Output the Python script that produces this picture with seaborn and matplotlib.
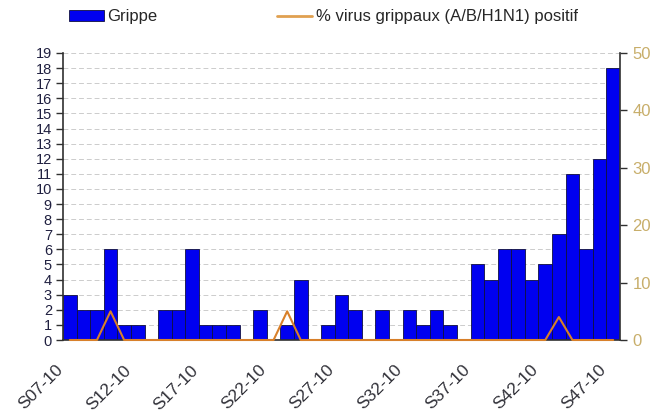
import matplotlib
matplotlib.use('Agg')
import matplotlib.pyplot as plt
import matplotlib.transforms as mtransforms
from matplotlib.patches import Patch
from matplotlib.lines import Line2D
import numpy as np
import pandas as pd
import seaborn as sb

# weekly counts (2010, weeks 7 to 47)
weeks = ["S%02d-10" % w for w in range(7, 48)]
grippe = [3, 2, 2, 6, 1, 1, 0, 2, 2, 6, 1, 1, 1, 0, 2, 0, 1, 4, 0, 1, 3,
          2, 0, 2, 0, 2, 1, 2, 1, 0, 5, 4, 6, 6, 4, 5, 7, 11, 6, 12, 18]
pct_virus = [0, 0, 0, 5, 0, 0, 0, 0, 0, 0, 0, 0, 0, 0, 0, 0, 5, 0, 0, 0, 0,
             0, 0, 0, 0, 0, 0, 0, 0, 0, 0, 0, 0, 0, 0, 0, 4, 0, 0, 0, 0]

df = pd.DataFrame({"week": weeks, "grippe": grippe, "pct": pct_virus})
df["pos"] = np.arange(len(df))

sb.set_style("white")
plt.rcParams["font.family"] = ["Liberation Sans", "DejaVu Sans"]

fig = plt.figure(figsize=(6.64, 4.16), dpi=100)
ax = fig.add_axes([63/664, 1-340/416, (620-63)/664, (340-53)/416])

#bars
sb.barplot(data=df, x="week", y="grippe", color="#0000F0", saturation=1,
           width=1, edgecolor="#101040", linewidth=0.6, ax=ax, zorder=2)
ax.set_xlim(-0.5, len(df) - 0.5)
ax.set_ylim(0, 19)
ax.set_yticks(range(0, 20))
ax.yaxis.grid(True, color="#cccccc", linestyle=(0, (5, 3)), linewidth=0.7)
ax.set_axisbelow(True)
ax.set_xlabel("")
ax.set_ylabel("")

# ticks at bar boundaries, labels every 5 weeks
bounds = np.arange(-0.5, len(df) + 0.5, 1)
labels = [weeks[i] if (i % 5 == 0 and i < len(weeks)) else "" for i in range(len(bounds))]
ax.set_xticks(bounds)
ax.tick_params(axis="x", direction="out", length=4, width=1, color="#303030", pad=2)
ax.tick_params(axis="y", direction="out", length=5, width=1, color="#303030",
               labelsize=10.5, labelcolor="#202040", pad=3)
ax.set_xticklabels(labels, rotation=45, ha="right", rotation_mode="anchor",
                   fontsize=12.5, color="#303038")
# shift rotated labels (after tick_params, which resets the transforms)
offset = mtransforms.ScaledTranslation(-0.08, -0.14, fig.dpi_scale_trans)
for lab in ax.get_xticklabels():
    lab.set_transform(lab.get_transform() + offset)
for s in ["left", "bottom"]:
    ax.spines[s].set_color("#303030")
    ax.spines[s].set_linewidth(1.2)
ax.spines["top"].set_visible(False)
ax.spines["right"].set_visible(False)

# line on right axis
ax2 = ax.twinx()
sb.lineplot(data=df, x="pos", y="pct", color="#D8802A", linewidth=1.5, ax=ax2,
            zorder=3, clip_on=False)
ax2.set_ylim(0, 50)
ax2.set_yticks(range(0, 51, 10))
ax2.set_ylabel("")
ax2.set_xlim(-0.5, len(df) - 0.5)
ax2.tick_params(axis="y", direction="out", length=5, width=1, color="#303030",
                labelsize=12, labelcolor="#C8AE6A", pad=4)
ax2.spines["right"].set_color("#303030")
ax2.spines["right"].set_linewidth(1.2)
for s in ["left", "top", "bottom"]:
    ax2.spines[s].set_visible(False)

# legend
handles = [Patch(facecolor="#0000F0", edgecolor="#101040", linewidth=0.6),
           Line2D([], [], color="#E0A050", linewidth=2)]
fig.legend(handles, ["Grippe", "% virus grippaux (A/B/H1N1) positif"],
           loc="center left", bbox_to_anchor=(69/664, 1-17/416), ncol=2,
           frameon=False, fontsize=12, handlelength=2.1, handleheight=0.6,
           handletextpad=0.2, columnspacing=7.2, borderpad=0, borderaxespad=0)

fig.savefig("out.png", dpi=100)
